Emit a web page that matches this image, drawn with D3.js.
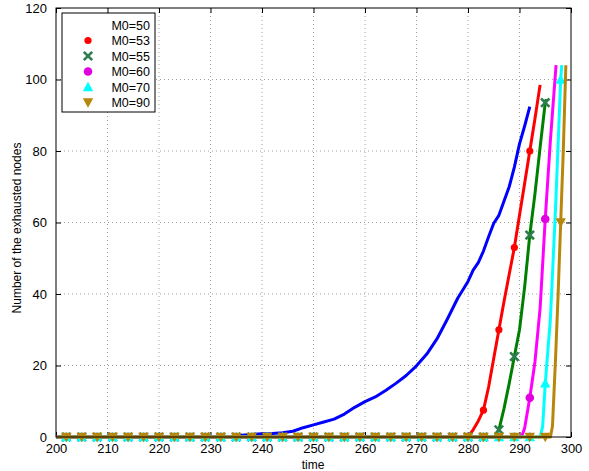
<!DOCTYPE html>
<html>
<head>
<meta charset="utf-8">
<script src="https://cdn.jsdelivr.net/npm/d3@7"></script>
<style>
html,body{margin:0;padding:0;background:#fff;}
svg{display:block;font-family:"Liberation Sans",Arial,Helvetica,sans-serif;}
</style>
</head>
<body>
<svg id="chart" width="589" height="471"></svg>
<script>
// ---- data ----
const xTicks = [200,210,220,230,240,250,260,270,280,290,300];
const yTicks = [0,20,40,60,80,100,120];
const markTimes = [202,205,208,211,214,217,220,223,226,229,232,235,238,241,244,247,250,253,256,259,262,265,268,271,274,277,280,283,286,289,292,295,298];
const labels = ["M0=50","M0=53","M0=55","M0=60","M0=70","M0=90"];

const seriesM50 = [[200,0],[234,0],[236,0.5],[238,0.7],[240,0.9],[242,1.0],[244,1.2],[246,1.6],[248,2.6],[250,3.4],[252,4.2],[254,5.0],[256,6.4],[258,8.3],[260,9.9],[262,11.2],[264,13],[266,15],[268,17.2],[270,19.9],[272,23.2],[274,27.5],[276,33],[278,38.8],[280,43.5],[281,46.7],[282,48.8],[283,52],[284,56],[285,59.8],[286,62],[287,66],[288,70],[289,75.5],[290,82],[291,87],[292,92.4]];

const seriesM53 = [[200,0],[202,0],[205,0],[208,0],[211,0],[214,0],[217,0],[220,0],[223,0],[226,0],[229,0],[232,0],[235,0],[238,0],[241,0],[244,0],[247,0],[250,0],[253,0],[256,0],[259,0],[262,0],[265,0],[268,0],[271,0],[274,0],[277,0],[280,0],[281,2],[282,4.5],[283,7.5],[284,14],[285,22],[286,30],[287,38],[288,45.5],[289,53],[290,62],[291,71],[292,80],[293,89],[294,98.5]];

const seriesM55 = [[200,0],[202,0],[205,0],[208,0],[211,0],[214,0],[217,0],[220,0],[223,0],[226,0],[229,0],[232,0],[235,0],[238,0],[241,0],[244,0],[247,0],[250,0],[253,0],[256,0],[259,0],[262,0],[265,0],[268,0],[271,0],[274,0],[277,0],[280,0],[283,0],[285.2,0],[286,2],[287,8],[288,15],[289,22.5],[290,30],[291,42],[292,56.5],[293,68],[294,81],[295,93.5],[295.2,94.5]];

const seriesM60 = [[200,0],[202,0],[205,0],[208,0],[211,0],[214,0],[217,0],[220,0],[223,0],[226,0],[229,0],[232,0],[235,0],[238,0],[241,0],[244,0],[247,0],[250,0],[253,0],[256,0],[259,0],[262,0],[265,0],[268,0],[271,0],[274,0],[277,0],[280,0],[283,0],[286,0],[289,0],[290.4,0],[291,2.5],[292,11],[293,21],[294,36],[295,61],[296,83],[297.1,104]];

const seriesM70 = [[200,0],[202,0],[205,0],[208,0],[211,0],[214,0],[217,0],[220,0],[223,0],[226,0],[229,0],[232,0],[235,0],[238,0],[241,0],[244,0],[247,0],[250,0],[253,0],[256,0],[259,0],[262,0],[265,0],[268,0],[271,0],[274,0],[277,0],[280,0],[283,0],[286,0],[289,0],[292,0],[294,0],[294.5,3],[295,15],[296,33],[297,64],[298,100],[298.2,104]];

const seriesM90 = [[200,0],[202,0],[205,0],[208,0],[211,0],[214,0],[217,0],[220,0],[223,0],[226,0],[229,0],[232,0],[235,0],[238,0],[241,0],[244,0],[247,0],[250,0],[253,0],[256,0],[259,0],[262,0],[265,0],[268,0],[271,0],[274,0],[277,0],[280,0],[283,0],[286,0],[289,0],[292,0],[295,0],[296,0],[296.4,3],[297,22],[297.5,40],[298,60],[298.5,80],[299,104]];

const colors = ["#0000ff","#ff0000","#008000","#ff00ff","#00ffff","#b8860b"];
const markerColors = [null,"#ff0000","#2e7d4f","#e000e0","#00ffff","#b8860b"];
const markerTypes = [null,"dot","x","circle","up","down"];
const allSeries = [seriesM50,seriesM53,seriesM55,seriesM60,seriesM70,seriesM90];

// ---- layout ----
const svg = d3.select("#chart");
const L = 56, R = 571, T = 8, B = 437;
const x = d3.scaleLinear().domain([200,300]).range([L,R]);
const y = d3.scaleLinear().domain([0,120]).range([B,T]);

// grid
const g = svg.append("g");
g.selectAll(".vg").data(xTicks.slice(1,-1)).enter().append("line")
  .attr("x1",d=>x(d)).attr("x2",d=>x(d)).attr("y1",T).attr("y2",B)
  .attr("stroke","#a0a0a0").attr("stroke-width",1).attr("stroke-dasharray","1,3");
g.selectAll(".hg").data(yTicks.slice(1,-1)).enter().append("line")
  .attr("y1",d=>y(d)).attr("y2",d=>y(d)).attr("x1",L).attr("x2",R)
  .attr("stroke","#a0a0a0").attr("stroke-width",1).attr("stroke-dasharray","1,3");

// axes (inward ticks on all sides)
const axB = d3.axisBottom(x).tickValues(xTicks).tickSize(-5).tickPadding(7).tickFormat(d3.format("d"));
const axT = d3.axisTop(x).tickValues(xTicks).tickSize(-5).tickFormat("");
const axL = d3.axisLeft(y).tickValues(yTicks).tickSize(-5).tickPadding(9).tickFormat(d3.format("d"));
const axR = d3.axisRight(y).tickValues(yTicks).tickSize(-5).tickFormat("");
function styleAxis(sel){
  sel.select(".domain").remove();
  sel.selectAll(".tick line").attr("stroke","#000");
  sel.selectAll(".tick text").attr("fill","#000").style("font-size","13px").style("font-family","'Liberation Sans',Arial,sans-serif");
}
svg.append("g").attr("transform",`translate(0,${B})`).call(axB).call(styleAxis);
svg.append("g").attr("transform",`translate(0,${T})`).call(axT).call(styleAxis);
svg.append("g").attr("transform",`translate(${L},0)`).call(axL).call(styleAxis);
svg.append("g").attr("transform",`translate(${R},0)`).call(axR).call(styleAxis);

// lines + markers
const line = d3.line().x(d=>x(d[0])).y(d=>y(d[1]));
function drawMarker(sel, type, color, cx, cy){
  if(type==="dot"){
    sel.append("circle").attr("cx",cx).attr("cy",cy).attr("r",3.6).attr("fill",color);
  } else if(type==="circle"){
    sel.append("circle").attr("cx",cx).attr("cy",cy).attr("r",4.3).attr("fill",color);
  } else if(type==="x"){
    const s=4.2;
    sel.append("path").attr("d",`M${cx-s},${cy-s}L${cx+s},${cy+s}M${cx-s},${cy+s}L${cx+s},${cy-s}`)
      .attr("stroke",color).attr("stroke-width",2.6).attr("fill","none");
  } else if(type==="up"){
    const s=5.2;
    sel.append("path").attr("d",`M${cx},${cy-s}L${cx+s},${cy+s*0.8}L${cx-s},${cy+s*0.8}Z`).attr("fill",color);
  } else if(type==="down"){
    const s=5.2;
    sel.append("path").attr("d",`M${cx},${cy+s}L${cx+s},${cy-s*0.8}L${cx-s},${cy-s*0.8}Z`).attr("fill",color);
  }
}
const plot = svg.append("g");
allSeries.forEach((data,i)=>{
  const gg = plot.append("g");
  gg.append("path").datum(data).attr("d",line).attr("fill","none")
    .attr("stroke",colors[i]).attr("stroke-width",3).attr("stroke-linejoin","round");
  if(markerTypes[i]){
    data.filter(d=>markTimes.includes(d[0])).forEach(d=>{
      drawMarker(gg, markerTypes[i], markerColors[i], x(d[0]), y(d[1]));
    });
  }
});

// frame
svg.append("rect").attr("x",L).attr("y",T).attr("width",R-L).attr("height",B-T)
  .attr("fill","none").attr("stroke","#000").attr("stroke-width",1);

// axis labels
svg.append("text").attr("x",313).attr("y",469).attr("text-anchor","middle")
  .style("font-size","12px").text("time");
svg.append("text").attr("transform","translate(21,228) rotate(-90)").attr("text-anchor","middle")
  .style("font-size","12px").text("Number of the exhausted nodes");

// legend
const lg = svg.append("g");
lg.append("rect").attr("x",62).attr("y",13).attr("width",93).attr("height",99)
  .attr("fill","#fff").attr("stroke","#000").attr("stroke-width",1);
labels.forEach((lab,i)=>{
  const cy = 25 + i*15.5;
  if(markerTypes[i]) drawMarker(lg, markerTypes[i], markerColors[i], 88, cy);
  lg.append("text").attr("x",150).attr("y",cy+4.5).attr("text-anchor","end")
    .style("font-size","12.5px").text(lab);
});
</script>
</body>
</html>
